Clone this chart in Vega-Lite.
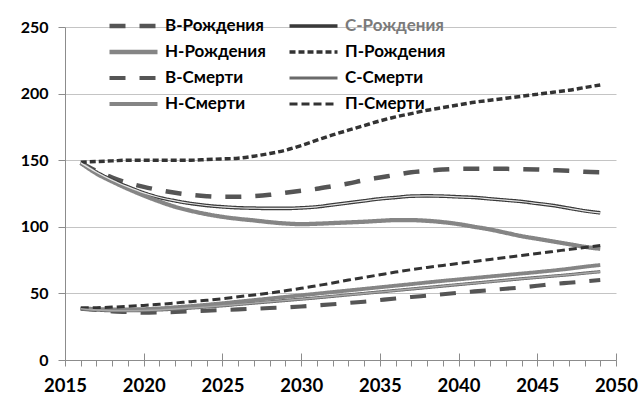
{
  "$schema": "https://vega.github.io/schema/vega-lite/v6.json",
  "autosize": "none",
  "width": 551,
  "height": 333,
  "padding": {"left": 65, "top": 27, "right": 28, "bottom": 41},
  "background": "white",
  "config": {
    "view": {"stroke": null},
    "font": "Lato",
    "axis": {"labelFont": "Lato", "labelFontWeight": "bold", "labelColor": "black", "domainColor": "#8c8c8c", "tickColor": "#8c8c8c", "title": null}
  },
  "resolve": {"axis": {"x": "independent"}},
  "data": {
    "values": [
      {"year": 2016, "В-Рождения": 148, "С-Рождения": 148, "Н-Рождения": 148, "П-Рождения": 148.5, "В-Смерти": 38.5, "С-Смерти": 38.5, "Н-Смерти": 38.8, "П-Смерти": 39},
      {"year": 2017, "В-Рождения": 142, "С-Рождения": 141, "Н-Рождения": 140, "П-Рождения": 149, "В-Смерти": 37.5, "С-Смерти": 37.5, "Н-Смерти": 38.3, "П-Смерти": 39.3},
      {"year": 2018, "В-Рождения": 137, "С-Рождения": 135, "Н-Рождения": 134, "П-Рождения": 149.5, "В-Смерти": 36.5, "С-Смерти": 37, "Н-Смерти": 38, "П-Смерти": 39.7},
      {"year": 2019, "В-Рождения": 133, "С-Рождения": 130, "Н-Рождения": 128.5, "П-Рождения": 150, "В-Смерти": 36, "С-Смерти": 37, "Н-Смерти": 38, "П-Смерти": 40.3},
      {"year": 2020, "В-Рождения": 130, "С-Рождения": 125.5, "Н-Рождения": 123.5, "П-Рождения": 150, "В-Смерти": 35.5, "С-Смерти": 37.2, "Н-Смерти": 38.2, "П-Смерти": 41},
      {"year": 2021, "В-Рождения": 127.5, "С-Рождения": 122, "Н-Рождения": 119, "П-Рождения": 150, "В-Смерти": 35.7, "С-Смерти": 37.6, "Н-Смерти": 38.8, "П-Смерти": 41.8},
      {"year": 2022, "В-Рождения": 125.5, "С-Рождения": 119.5, "Н-Рождения": 115, "П-Рождения": 150, "В-Смерти": 36, "С-Смерти": 38.2, "Н-Смерти": 39.6, "П-Смерти": 42.8},
      {"year": 2023, "В-Рождения": 124, "С-Рождения": 117.5, "Н-Рождения": 112, "П-Рождения": 150, "В-Смерти": 36.5, "С-Смерти": 39, "Н-Смерти": 40.5, "П-Смерти": 43.8},
      {"year": 2024, "В-Рождения": 123, "С-Рождения": 116, "Н-Рождения": 109.5, "П-Рождения": 150.5, "В-Смерти": 37, "С-Смерти": 39.8, "Н-Смерти": 41.5, "П-Смерти": 44.8},
      {"year": 2025, "В-Рождения": 122.5, "С-Рождения": 115, "Н-Рождения": 107.5, "П-Рождения": 151, "В-Смерти": 37.5, "С-Смерти": 40.7, "Н-Смерти": 42.6, "П-Смерти": 46},
      {"year": 2026, "В-Рождения": 122.5, "С-Рождения": 114.3, "Н-Рождения": 106, "П-Рождения": 151.5, "В-Смерти": 38, "С-Смерти": 41.7, "Н-Смерти": 43.8, "П-Смерти": 47.5},
      {"year": 2027, "В-Рождения": 123, "С-Рождения": 114, "Н-Рождения": 104.8, "П-Рождения": 153, "В-Смерти": 38.5, "С-Смерти": 42.7, "Н-Смерти": 45, "П-Смерти": 48.8},
      {"year": 2028, "В-Рождения": 124, "С-Рождения": 113.8, "Н-Рождения": 103.5, "П-Рождения": 155, "В-Смерти": 39, "С-Смерти": 43.7, "Н-Смерти": 46.2, "П-Смерти": 50.3},
      {"year": 2029, "В-Рождения": 125.5, "С-Рождения": 113.8, "Н-Рождения": 102.5, "П-Рождения": 157.5, "В-Смерти": 39.5, "С-Смерти": 44.7, "Н-Смерти": 47.4, "П-Смерти": 52},
      {"year": 2030, "В-Рождения": 127, "С-Рождения": 114.2, "Н-Рождения": 102, "П-Рождения": 161, "В-Смерти": 40.2, "С-Смерти": 45.7, "Н-Смерти": 48.6, "П-Смерти": 53.8},
      {"year": 2031, "В-Рождения": 128.5, "С-Рождения": 115, "Н-Рождения": 102.3, "П-Рождения": 165, "В-Смерти": 41, "С-Смерти": 46.7, "Н-Смерти": 49.8, "П-Смерти": 55.8},
      {"year": 2032, "В-Рождения": 130.5, "С-Рождения": 116.5, "Н-Рождения": 102.8, "П-Рождения": 169, "В-Смерти": 41.8, "С-Смерти": 47.8, "Н-Смерти": 51, "П-Смерти": 57.8},
      {"year": 2033, "В-Рождения": 132.5, "С-Рождения": 118, "Н-Рождения": 103.3, "П-Рождения": 172.5, "В-Смерти": 42.8, "С-Смерти": 48.9, "Н-Смерти": 52.2, "П-Смерти": 60},
      {"year": 2034, "В-Рождения": 135, "С-Рождения": 119.5, "Н-Рождения": 103.8, "П-Рождения": 176, "В-Смерти": 43.8, "С-Смерти": 50, "Н-Смерти": 53.4, "П-Смерти": 62},
      {"year": 2035, "В-Рождения": 137, "С-Рождения": 121, "Н-Рождения": 104.5, "П-Рождения": 179.5, "В-Смерти": 45, "С-Смерти": 51.1, "Н-Смерти": 54.6, "П-Смерти": 64},
      {"year": 2036, "В-Рождения": 139, "С-Рождения": 122, "Н-Рождения": 105, "П-Рождения": 182.5, "В-Смерти": 46.2, "С-Смерти": 52.2, "Н-Смерти": 55.8, "П-Смерти": 66},
      {"year": 2037, "В-Рождения": 141, "С-Рождения": 123, "Н-Рождения": 105, "П-Рождения": 185, "В-Смерти": 47.3, "С-Смерти": 53.3, "Н-Смерти": 57, "П-Смерти": 67.8},
      {"year": 2038, "В-Рождения": 142, "С-Рождения": 123.2, "Н-Рождения": 104.5, "П-Рождения": 187.5, "В-Смерти": 48.3, "С-Смерти": 54.4, "Н-Смерти": 58.2, "П-Смерти": 69.5},
      {"year": 2039, "В-Рождения": 143, "С-Рождения": 123, "Н-Рождения": 103.5, "П-Рождения": 189.5, "В-Смерти": 49.3, "С-Смерти": 55.5, "Н-Смерти": 59.4, "П-Смерти": 71},
      {"year": 2040, "В-Рождения": 143.5, "С-Рождения": 122.5, "Н-Рождения": 102, "П-Рождения": 191.5, "В-Смерти": 50.5, "С-Смерти": 56.6, "Н-Смерти": 60.5, "П-Смерти": 72.5},
      {"year": 2041, "В-Рождения": 143.5, "С-Рождения": 122, "Н-Рождения": 100, "П-Рождения": 193.5, "В-Смерти": 51.5, "С-Смерти": 57.7, "Н-Смерти": 61.6, "П-Смерти": 74},
      {"year": 2042, "В-Рождения": 143.5, "С-Рождения": 121, "Н-Рождения": 98, "П-Рождения": 195, "В-Смерти": 52.5, "С-Смерти": 58.8, "Н-Смерти": 62.7, "П-Смерти": 75.5},
      {"year": 2043, "В-Рождения": 143.5, "С-Рождения": 120, "Н-Рождения": 95.5, "П-Рождения": 196.5, "В-Смерти": 53.5, "С-Смерти": 59.9, "Н-Смерти": 63.8, "П-Смерти": 77},
      {"year": 2044, "В-Рождения": 143.3, "С-Рождения": 119, "Н-Рождения": 93, "П-Рождения": 198, "В-Смерти": 54.5, "С-Смерти": 61, "Н-Смерти": 64.9, "П-Смерти": 78.5},
      {"year": 2045, "В-Рождения": 143, "С-Рождения": 117.5, "Н-Рождения": 91, "П-Рождения": 199.5, "В-Смерти": 55.7, "С-Смерти": 62, "Н-Смерти": 66, "П-Смерти": 80},
      {"year": 2046, "В-Рождения": 142.5, "С-Рождения": 116, "Н-Рождения": 89, "П-Рождения": 201, "В-Смерти": 57, "С-Смерти": 63, "Н-Смерти": 67.2, "П-Смерти": 81.5},
      {"year": 2047, "В-Рождения": 142, "С-Рождения": 114, "Н-Рождения": 87, "П-Рождения": 202.5, "В-Смерти": 58, "С-Смерти": 64, "Н-Смерти": 68.5, "П-Смерти": 83},
      {"year": 2048, "В-Рождения": 141.3, "С-Рождения": 112, "Н-Рождения": 85, "П-Рождения": 204.5, "В-Смерти": 59, "С-Смерти": 65.2, "Н-Смерти": 70, "П-Смерти": 84.5},
      {"year": 2049, "В-Рождения": 141, "С-Рождения": 110.5, "Н-Рождения": 83.5, "П-Рождения": 206.5, "В-Смерти": 60, "С-Смерти": 66.3, "Н-Смерти": 71.3, "П-Смерти": 86}
    ]
  },
  "transform": [
    {"fold": ["В-Рождения", "С-Рождения", "Н-Рождения", "П-Рождения", "В-Смерти", "С-Смерти", "Н-Смерти", "П-Смерти"], "as": ["series", "value"]}
  ],
  "encoding": {
    "x": {
      "field": "year", "type": "quantitative",
      "scale": {"domain": [2015, 2050], "nice": false, "zero": false},
      "axis": {"orient": "bottom", "values": [2015,2016,2017,2018,2019,2020,2021,2022,2023,2024,2025,2026,2027,2028,2029,2030,2031,2032,2033,2034,2035,2036,2037,2038,2039,2040,2041,2042,2043,2044,2045,2046,2047,2048,2049,2050],
               "labelExpr": "datum.value % 5 == 0 ? datum.value : ''", "format": "d",
               "grid": false, "tickSize": 6, "labelFontSize": 18.5, "labelPadding": 10, "labelFlush": false, "labelOverlap": false}
    },
    "y": {
      "field": "value", "type": "quantitative",
      "scale": {"domain": [0, 250], "nice": false},
      "axis": {"values": [0, 50, 100, 150, 200, 250], "grid": true, "gridColor": "#c4c4c4", "gridWidth": 1, "tickSize": 7, "labelFontSize": 16, "labelPadding": 10}
    }
  },
  "layer": [
    {
      "mark": {"type": "line", "interpolate": "monotone", "strokeCap": "butt"},
      "encoding": {
        "color": {"field": "series", "type": "nominal",
          "scale": {"domain": ["В-Рождения", "Н-Рождения", "В-Смерти", "Н-Смерти", "С-Рождения", "П-Рождения", "С-Смерти", "П-Смерти"],
                    "range": ["#555555", "#858585", "#555555", "#858585", "#3a3a3a", "#333333", "#6a6a6a", "#333333"]},
          "legend": {"orient": "none", "legendX": 42, "legendY": -14, "columns": 2, "title": null,
                     "symbolType": "stroke", "symbolSize": 2304, "symbolStrokeWidth": 4, "clipHeight": 26,
                     "labelFont": "Lato", "labelFontSize": 17, "labelFontWeight": "bold", "labelColor": "black",
                     "labelOffset": 5, "columnPadding": 21, "rowPadding": 0,
                     "encode": {"labels": {"update": {"fill": {"signal": "datum.label == 'С-Рождения' ? '#7a7a7a' : '#000000'"}}}}}},
        "strokeDash": {"field": "series", "type": "nominal",
          "scale": {"domain": ["В-Рождения", "Н-Рождения", "В-Смерти", "Н-Смерти", "С-Рождения", "П-Рождения", "С-Смерти", "П-Смерти"],
                    "range": [[16, 14], [1, 0], [16, 14], [1, 0], [1, 0], [6, 3], [1, 0], [8, 4]]}},
        "strokeWidth": {"field": "series", "type": "nominal",
          "scale": {"domain": ["В-Рождения", "Н-Рождения", "В-Смерти", "Н-Смерти", "С-Рождения", "П-Рождения", "С-Смерти", "П-Смерти"],
                    "range": [4.5, 3, 4.5, 3, 4, 1.8, 4.5, 3]}}
      }
    },
    {
      "transform": [{"filter": "datum.series == 'С-Рождения'"}],
      "mark": {"type": "line", "interpolate": "monotone", "color": "#e6e6e6", "strokeWidth": 1.2},
      "encoding": {
        "detail": {"field": "series"},
        "x": {"field": "year", "type": "quantitative", "scale": {"domain": [2015, 2050], "nice": false, "zero": false}, "axis": null}
      }
    },
    {
      "transform": [{"filter": "datum.series == 'С-Смерти'"}],
      "mark": {"type": "line", "interpolate": "monotone", "color": "#a8a8a8", "strokeWidth": 1.5},
      "encoding": {
        "detail": {"field": "series"},
        "x": {
          "field": "year", "type": "quantitative",
          "scale": {"domain": [2015, 2050], "nice": false, "zero": false},
          "axis": {"orient": "bottom", "values": [2015, 2020, 2025, 2030, 2035, 2040, 2045, 2050], "labels": false, "domain": false, "grid": false, "tickSize": -7}
        }
      }
    }
  ]
}
